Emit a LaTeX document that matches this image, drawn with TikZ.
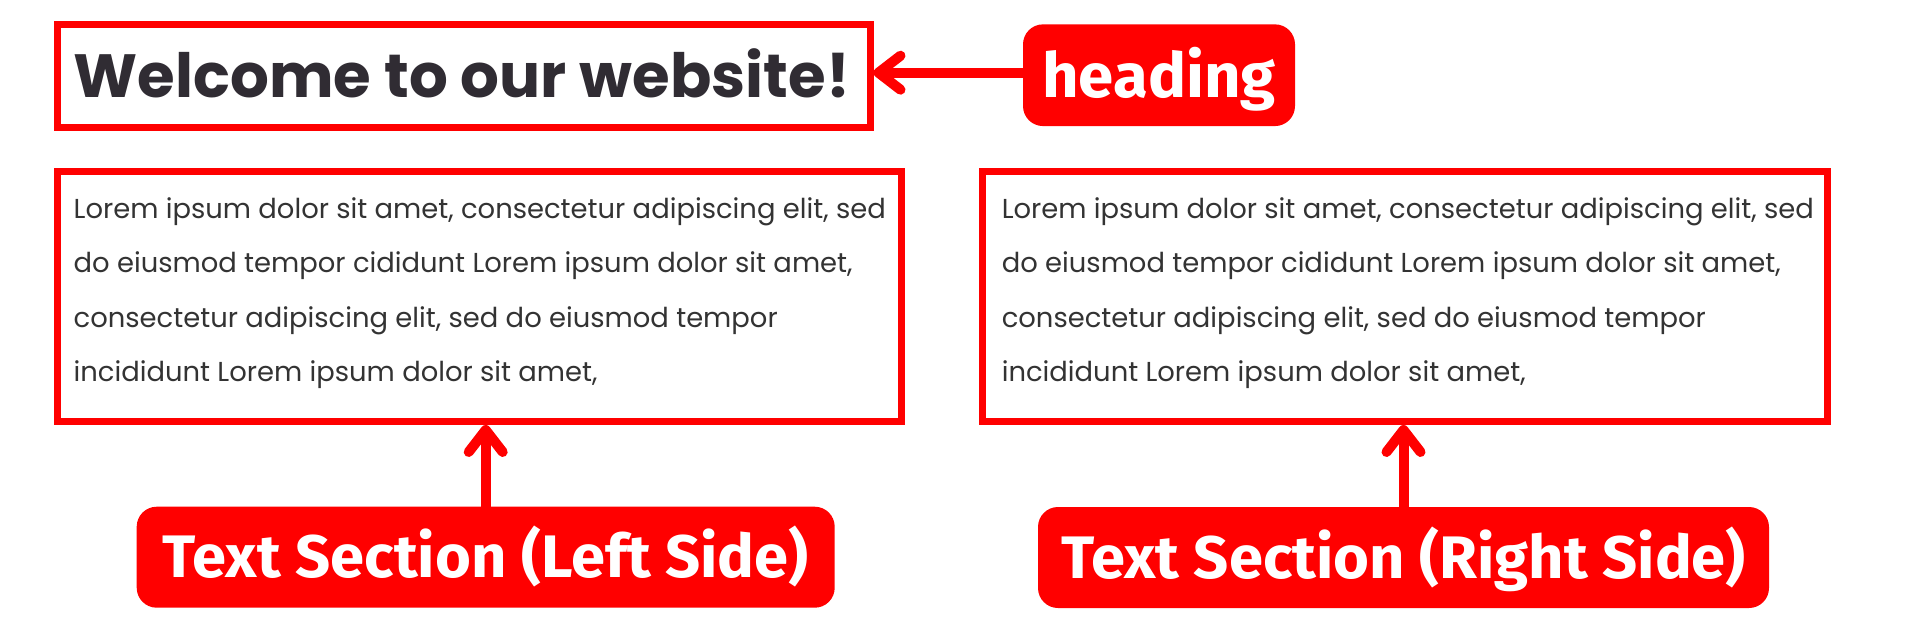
\documentclass[tikz,border=0pt]{standalone}
\usepackage{fontspec}
\usetikzlibrary{arrows.meta,calc}
\newfontfamily\popfont{Poppins}
\newfontfamily\tagfont{Fira Sans}[FakeStretch=1.025]
\definecolor{markred}{RGB}{255,0,0}
\definecolor{ink}{RGB}{48,44,51}
\definecolor{bodyink}{RGB}{51,51,51}

\begin{document}
\begin{tikzpicture}[x=1pt,y=-1pt,
  frame/.style={draw=markred, line width=7pt, inner sep=0pt},
  tag/.style={fill=markred, rounded corners=20pt, inner sep=0pt,
    text=white, font=\tagfont\bfseries\fontsize{60}{60}\selectfont,
    text height=41.3pt, text depth=0pt, minimum height=101pt},
  conn/.style={draw=markred, line width=10pt,
    -{Straight Barb[round, length=22pt, width=34pt]}},
  bodytext/.style={anchor=base west, inner sep=0pt, align=left,
    text=bodyink, font=\popfont\fontsize{27.4}{54.5}\selectfont}]

\useasboundingbox (0,0) rectangle (1920,641);
\fill[white] (0,0) rectangle (1920,641);

% heading block
\node[frame, minimum width=813pt, minimum height=103pt] (hbox) at (463.5,76) {};
\node[anchor=base west, inner sep=0pt, text=ink,
  font=\popfont\bfseries\fontsize{61}{61}\selectfont] (htext) at (73.5,97)
  {Welcome to our website!};

% the two text columns (node base = last line)
\node[frame, minimum width=844pt, minimum height=250pt] (lbox) at (479.5,296.5) {};
\node[frame, minimum width=844.5pt, minimum height=250pt] (rbox) at (1404.75,296.5) {};

\node[bodytext] (ltext) at (73.5,381.7)
  {Lorem ipsum dolor sit amet, consectetur adipiscing elit, sed\\
   do eiusmod tempor cididunt Lorem ipsum dolor sit amet,\\
   consectetur adipiscing elit, sed do eiusmod tempor\\
   incididunt Lorem ipsum dolor sit amet,};
\node[bodytext] (rtext) at (1001.6,381.7)
  {Lorem ipsum dolor sit amet, consectetur adipiscing elit, sed\\
   do eiusmod tempor cididunt Lorem ipsum dolor sit amet,\\
   consectetur adipiscing elit, sed do eiusmod tempor\\
   incididunt Lorem ipsum dolor sit amet,};

% callout labels
\node[tag, minimum width=272pt, minimum height=101.7pt, text height=44.4pt,
  font=\tagfont\bfseries\fontsize{62}{62}\selectfont] (hlabel) at (1159,75.2) {heading};
\node[tag, minimum width=698pt] (llabel) at (485.7,557.2) {Text Section (Left Side)};
\node[tag, minimum width=731pt] (rlabel) at (1403.5,557.5) {Text Section (Right Side)};

% pointers
\draw[conn] ([yshift=2.5pt]hlabel.west) -- ([yshift=2.5pt]hlabel.west -| hbox.east);
\draw[conn] (llabel.north) -- (llabel.north |- lbox.south);
\draw[conn] (rlabel.north) -- (rlabel.north |- rbox.south);
\end{tikzpicture}
\end{document}
